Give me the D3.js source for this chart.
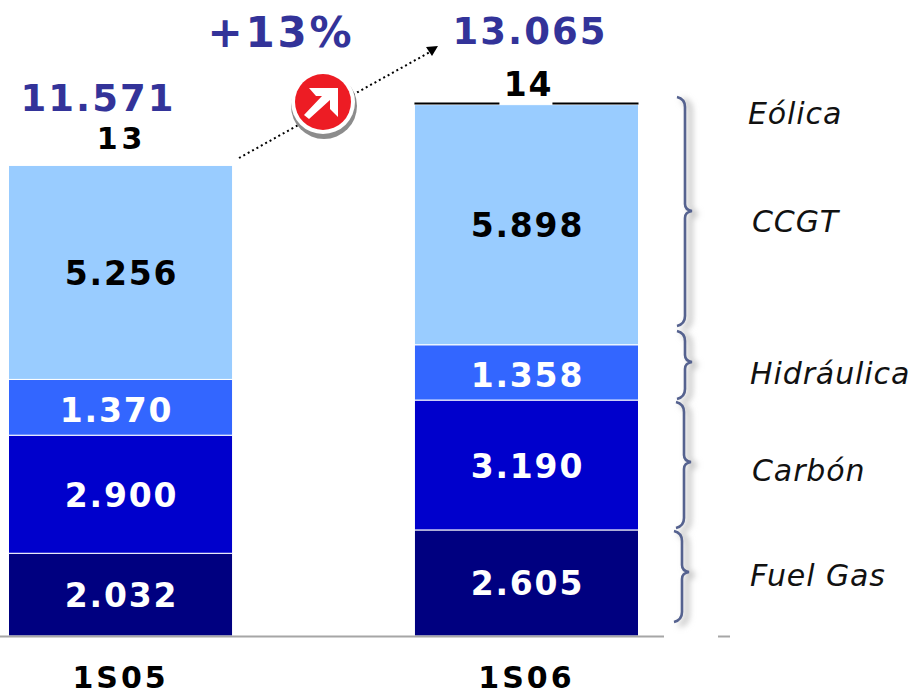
<!DOCTYPE html>
<html><head><meta charset="utf-8">
<script src="https://cdn.jsdelivr.net/npm/d3@7"></script>
<style>html,body{margin:0;padding:0;background:#fff}svg{display:block}text{font-family:"DejaVu Sans",Verdana,sans-serif}</style>
</head><body><svg id="c" width="911" height="696"></svg>
<script>
const periods = ["1S05","1S06"];
const seriesNames = ["Fuel Gas","Carbón","Hidráulica","CCGT","Eólica"];
const fuelGas = [2032,2605];
const carbon = [2900,3190];
const hidraulica = [1370,1358];
const ccgt = [5256,5898];
const eolica = [13,14];
const totals = ["11.571","13.065"];
const growth = "+13%";
const colors = ["#000080","#0000CC","#3366FF","#99CCFF","#000000"];
const labelColors = ["#fff","#fff","#fff","#000"];
const fmt = v => d3.format(",")(v).replace(",",".");

const svg = d3.select("#c");
const defs = svg.append("defs");
defs.append("filter").attr("id","blur").attr("x","-100%").attr("width","300%")
  .append("feGaussianBlur").attr("stdDeviation",3);
defs.append("filter").attr("id","soft").attr("x","-50%").attr("width","200%")
  .append("feGaussianBlur").attr("stdDeviation",0.6);

const x = d3.scaleBand().domain(periods).range([8.5,638.5]).paddingInner(0.448);
const y = d3.scaleLinear().domain([0,13079]).range([636,103.5]);

const rows = periods.map((p,i)=>({period:p,"Fuel Gas":fuelGas[i],"Carbón":carbon[i],"Hidráulica":hidraulica[i],"CCGT":ccgt[i],"Eólica":eolica[i]}));
const stacked = d3.stack().keys(seriesNames)(rows);

// bars
stacked.slice(0,4).forEach((s,k)=>{
  svg.append("g").selectAll("rect").data(s).join("rect")
    .attr("x",d=>x(d.data.period)).attr("width",x.bandwidth())
    .attr("y",d=>y(d[1])).attr("height",d=>y(d[0])-y(d[1]))
    .attr("fill",colors[k]).attr("stroke","#fff").attr("stroke-width",1);
  svg.append("g").selectAll("text").data(s).join("text")
    .attr("x",(d,i)=>x(d.data.period)+x.bandwidth()/2+1+(k===2&&i===0?-5:0))
    .attr("y",d=>(y(d[0])+y(d[1]))/2+(k===2?3:1))
    .attr("text-anchor","middle").attr("dominant-baseline","central")
    .attr("font-size",33).attr("font-weight","bold").attr("letter-spacing",1.8)
    .attr("fill",labelColors[k]).text(d=>fmt(d[1]-d[0]));
});

// eólica thin cap on 1S06
const bw = x.bandwidth(), r = x("1S06");
[[r,r+85],[r+138,r+bw]].forEach(a=>svg.append("line").attr("x1",a[0]).attr("x2",a[1])
  .attr("y1",y(13079)).attr("y2",y(13079)).attr("stroke","#000").attr("stroke-width",2));
const eolY = [138,84], eolSize = [30,33], eolSpacing = [4,1.8];
periods.forEach((p,i)=>svg.append("text").attr("x",x(p)+bw/2+(i?2:1)).attr("y",eolY[i])
  .attr("text-anchor","middle").attr("dominant-baseline","central")
  .attr("font-size",eolSize[i]).attr("font-weight","bold").attr("letter-spacing",eolSpacing[i]).text(eolica[i]));

// totals
const totalPos = [[98,98.5],[530,31]];
totals.forEach((t,i)=>svg.append("text").attr("x",totalPos[i][0]).attr("y",totalPos[i][1])
  .attr("text-anchor","middle").attr("dominant-baseline","central")
  .attr("font-size",37).attr("font-weight","bold").attr("letter-spacing",2).attr("fill","#333399").text(t));
svg.append("text").attr("x",281).attr("y",32).attr("text-anchor","middle").attr("dominant-baseline","central")
  .attr("font-size",42).attr("font-weight","bold").attr("letter-spacing",2.8).attr("fill","#333399").text(growth);

// baseline
svg.append("line").attr("x1",0).attr("x2",664).attr("y1",636.5).attr("y2",636.5).attr("stroke","#a6a6a6").attr("stroke-width",2);
svg.append("line").attr("x1",718).attr("x2",730).attr("y1",636.5).attr("y2",636.5).attr("stroke","#a6a6a6").attr("stroke-width",2);

// category labels
periods.forEach(p=>svg.append("text").attr("x",x(p)+bw/2).attr("y",677.5)
  .attr("text-anchor","middle").attr("dominant-baseline","central")
  .attr("font-size",30).attr("font-weight","bold").attr("letter-spacing",3).attr("fill","#000").text(p));

// growth arrow
svg.append("line").attr("x1",239).attr("y1",158).attr("x2",430).attr("y2",52)
  .attr("stroke","#000").attr("stroke-width",2).attr("stroke-dasharray","2 3");
svg.append("path").attr("d","M426,47L438,46L432,56Z").attr("fill","#000");

// badge
const cx=323, cy=102;
svg.append("circle").attr("cx",cx+1).attr("cy",cy+4).attr("r",33).attr("fill","#8c8c8c").attr("filter","url(#soft)");
svg.append("circle").attr("cx",cx).attr("cy",cy).attr("r",32).attr("fill","#fff");
svg.append("circle").attr("cx",cx).attr("cy",cy).attr("r",28).attr("fill","#ED1C24");
svg.append("path").attr("d",`M${cx-14},${cy-14}L${cx+15},${cy-14}L${cx+15},${cy+15}L${cx+7},${cy+7}L${cx+7},${cy-2}L${cx-14},${cy+17}L${cx-19},${cy+13}L${cx-1},${cy-6}L${cx-7},${cy-6}Z`).attr("fill","#fff");

// braces: [top, tip, bottom, x offset]
const braces = [[97,211,326,0],[331,362,399,0],[402,462,528,-1],[531,572,622,-3]];
const bracePath = b => {
  const [t,m,e,o]=b, sx=685+o, lx=sx-8, rx=sx+7, c=7;
  return `M${lx},${t}Q${sx},${t+2} ${sx},${t+c+3}L${sx},${m-c}Q${sx},${m-1} ${rx},${m}Q${sx},${m+1} ${sx},${m+c}L${sx},${e-c-3}Q${sx},${e-2} ${lx},${e}`;
};
const gb = svg.append("g").attr("fill","none");
gb.selectAll("path.s").data(braces).join("path").attr("class","s").attr("d",bracePath)
  .attr("transform","translate(5,3)").attr("stroke","#b5b5b5").attr("stroke-width",4).attr("filter","url(#blur)");
gb.selectAll("path.m").data(braces).join("path").attr("class","m").attr("d",bracePath)
  .attr("stroke","#55628f").attr("stroke-width",2.6).attr("filter","url(#soft)");

// legend labels
const legendY = {"Eólica":113,"CCGT":221,"Hidráulica":373,"Carbón":470,"Fuel Gas":575};
const legendX = {"Eólica":748,"CCGT":752,"Hidráulica":750,"Carbón":752,"Fuel Gas":750};
seriesNames.forEach(n=>svg.append("text").attr("x",legendX[n]).attr("y",legendY[n])
  .attr("dominant-baseline","central").attr("font-size",30).attr("letter-spacing",0.9).attr("font-style","italic").attr("fill","#111").text(n));
</script></body></html>
